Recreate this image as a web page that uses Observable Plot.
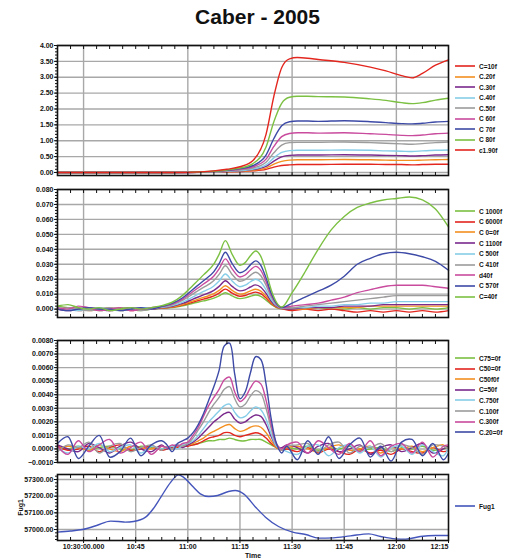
<!DOCTYPE html>
<html><head><meta charset="utf-8">
<script src="https://cdn.jsdelivr.net/npm/d3@7"></script>
<script src="https://cdn.jsdelivr.net/npm/@observablehq/plot@0.6"></script>
<style>
body{margin:0;background:#fff;}
#root{position:relative;width:505px;height:559px;overflow:hidden;background:#fff;font-family:"Liberation Sans",Arial,sans-serif;}
#title{position:absolute;left:0;top:5px;width:515px;text-align:center;font:bold 21px "Liberation Sans",Arial,sans-serif;color:#111;}
.panel{position:absolute;left:0;}
.lg{position:absolute;left:455px;height:10px;display:flex;align-items:center;font:bold 6.5px "Liberation Sans",Arial,sans-serif;color:#111;white-space:nowrap;}
</style></head>
<body><div id="root"><div id="title">Caber - 2005</div></div>
<script>
// ---------- shared x ticks ----------
const X_TICKS = [0.5,1.5,2.5,3.5,4.5,5.5,6.5,7.5];
const X_TICK_LABELS = ["10:30:00.000","10:45","11:00","11:15","11:30","11:45","12:00","12:15"];

// ---------- panel 1 ----------
const P1_T = [0,0.5,1,1.5,2,2.5,2.75,3,3.25,3.5,3.75,4.0,4.15,4.3,4.45,4.6,4.8,5,5.5,6,6.3,6.6,6.8,7,7.25,7.5];
const P1_NAMES = ["C=10f","C.20f","C.30f","C.40f","C.50f","C 60f","C 70f","C 80f","c1.90f"];
const P1_V1 = [0,0,0,0,0,0,0.005,0.01,0.02,0.03,0.05,0.1,0.17,0.22,0.24,0.25,0.25,0.25,0.26,0.26,0.25,0.25,0.24,0.25,0.26,0.26];
const P1_V2 = [0,0,0,0,0,0,0.005,0.01,0.025,0.04,0.07,0.14,0.26,0.35,0.39,0.4,0.4,0.4,0.41,0.4,0.39,0.38,0.38,0.39,0.4,0.41];
const P1_V3 = [0,0,0,0,0,0,0.005,0.015,0.03,0.05,0.09,0.19,0.36,0.49,0.54,0.55,0.55,0.55,0.56,0.55,0.54,0.53,0.52,0.53,0.55,0.56];
const P1_V4 = [0,0,0,0,0,0,0.01,0.02,0.04,0.06,0.11,0.24,0.46,0.63,0.69,0.7,0.7,0.7,0.71,0.7,0.68,0.67,0.66,0.68,0.7,0.71];
const P1_V5 = [0,0,0,0,0,0,0.01,0.02,0.05,0.08,0.14,0.32,0.62,0.86,0.94,0.95,0.95,0.95,0.96,0.94,0.92,0.9,0.89,0.91,0.94,0.96];
const P1_V6 = [0,0,0,0,0,0,0.01,0.03,0.06,0.1,0.18,0.42,0.82,1.13,1.23,1.25,1.25,1.24,1.25,1.22,1.2,1.17,1.16,1.18,1.22,1.24];
const P1_V7 = [0,0,0,0,0,0.005,0.015,0.035,0.07,0.12,0.22,0.55,1.07,1.47,1.6,1.62,1.62,1.61,1.63,1.6,1.57,1.54,1.53,1.55,1.59,1.61];
const P1_V8 = [0,0,0,0,0,0.005,0.02,0.04,0.08,0.14,0.28,0.8,1.6,2.18,2.37,2.4,2.4,2.39,2.38,2.32,2.27,2.2,2.17,2.2,2.28,2.34];
const P1_V9 = [0,0,0,0,0,0.005,0.02,0.05,0.1,0.18,0.38,1.2,2.4,3.3,3.58,3.62,3.6,3.56,3.47,3.32,3.2,3.05,2.98,3.12,3.38,3.55];
const P1_YTICKS = [0,0.5,1,1.5,2,2.5,3,3.5,4];

// ---------- panel 2 ----------
const P2_T = [0,0.2,0.4,0.6,0.8,1.0,1.2,1.4,1.6,1.8,2.0,2.2,2.4,2.6,2.8,3.0,3.1,3.22,3.35,3.5,3.6,3.7,3.8,3.9,4.0,4.1,4.2,4.3,4.5,4.75,5.0,5.25,5.5,5.75,6.0,6.25,6.5,6.75,7.0,7.25,7.5];
const P2_NAMES = ["C 1000f","C 6000f","C 0=0f","C 1100f","C 500f","C 410f","d40f","C 570f","C=40f"];
const P2_V1 = [0.002,0.001,0.000,0.001,-0.001,0.000,0.001,0.000,-0.001,0.000, 0.0005,0.0011,0.0022,0.0039,0.0055,0.0073,0.0088,0.011,0.0088,0.007,0.0075,0.0086,0.0094,0.0085,0.006,0.0031,0.0011,0.0003, 0.001,0.000,0.001,0.000,0.000,0.001,0.000,0.001,0.001,0.000,0.001,0.000,0.001];
const P2_V2 = [0.000,0.001,-0.001,0.000,0.001,-0.001,0.000,-0.001,0.000,0.001, 0.0007,0.0013,0.0027,0.0047,0.0067,0.0088,0.0107,0.0134,0.0107,0.0086,0.0091,0.0105,0.0114,0.0103,0.0074,0.0038,0.0013,0.0004, -0.001,0.000,-0.001,0.000,-0.001,-0.002,-0.001,-0.002,-0.001,-0.002,-0.001,-0.002,-0.001];
const P2_V3 = [0.001,0.000,0.001,-0.001,0.000,0.001,-0.001,0.000,0.001,0.000, 0.0008,0.0016,0.0031,0.0055,0.0078,0.0103,0.0125,0.0156,0.0125,0.010,0.0106,0.0122,0.0133,0.012,0.0086,0.0044,0.0016,0.0005, 0.000,0.000,0.001,0.001,0.001,0.001,0.002,0.002,0.002,0.002,0.002,0.002,0.002];
const P2_V4 = [0.000,-0.001,0.000,0.001,0.000,-0.001,0.000,0.001,0.000,0.000, 0.001,0.0019,0.0038,0.0067,0.0095,0.0125,0.0152,0.019,0.0152,0.0122,0.0129,0.0148,0.0162,0.0146,0.0105,0.0053,0.0019,0.0006, 0.000,0.001,0.001,0.001,0.002,0.002,0.002,0.003,0.003,0.003,0.003,0.003,0.003];
const P2_V5 = [0.001,0.000,-0.001,0.000,0.001,0.000,-0.001,0.000,0.001,0.001, 0.0012,0.0024,0.0047,0.0082,0.0118,0.0155,0.0188,0.0235,0.0188,0.015,0.016,0.0183,0.020,0.0181,0.0129,0.0066,0.0024,0.0007, 0.001,0.001,0.002,0.002,0.003,0.003,0.004,0.004,0.005,0.005,0.005,0.005,0.005];
const P2_V6 = [0.000,0.001,0.000,-0.001,0.000,0.001,0.000,0.000,-0.001,0.000, 0.0015,0.0029,0.0058,0.0102,0.0145,0.0191,0.0232,0.029,0.0232,0.0186,0.0197,0.0226,0.0247,0.0223,0.016,0.0081,0.0029,0.0009, 0.001,0.002,0.003,0.004,0.005,0.006,0.007,0.008,0.009,0.009,0.009,0.009,0.009];
const P2_V7 = [0.001,0.000,0.002,0.001,-0.001,0.000,0.001,-0.001,0.000,0.001, 0.0017,0.0034,0.0067,0.0118,0.0168,0.0222,0.0269,0.0336,0.0269,0.0215,0.0228,0.0262,0.0286,0.0259,0.0185,0.0094,0.0034,0.001, 0.002,0.003,0.004,0.006,0.008,0.011,0.013,0.015,0.016,0.016,0.016,0.015,0.014];
const P2_V8 = [0.000,-0.001,0.000,0.001,0.000,0.000,-0.001,0.000,0.001,0.000, 0.0019,0.0038,0.0076,0.0133,0.019,0.0251,0.0304,0.038,0.0304,0.0243,0.0258,0.0296,0.0323,0.0293,0.0209,0.0106,0.0038,0.0011, 0.004,0.008,0.012,0.016,0.022,0.030,0.034,0.037,0.038,0.037,0.035,0.032,0.026];
const P2_V9 = [0.002,0.003,0.001,0.000,0.001,-0.001,0.000,0.001,0.000,0.001, 0.0023,0.0046,0.0092,0.016,0.0229,0.0302,0.0366,0.0458,0.0366,0.0293,0.0311,0.0357,0.0389,0.0353,0.0252,0.0128,0.0046,0.0014, 0.011,0.025,0.040,0.053,0.062,0.068,0.071,0.073,0.074,0.075,0.073,0.067,0.055];
const P2_YTICKS = [0,0.01,0.02,0.03,0.04,0.05,0.06,0.07,0.08];

// ---------- panel 3 ----------
const P3_T = [0,0.2,0.4,0.6,0.8,1.0,1.2,1.4,1.6,1.8,2.0, 2.1,2.2,2.3,2.4,2.5,2.6,2.7,2.8,2.9,3.0,3.1,3.2,3.3,3.4,3.5,3.6,3.7,3.8,3.9,4.0,4.1,4.2,4.3,4.4, 4.6,4.8,5.0,5.2,5.4,5.6,5.8,6.0,6.2,6.4,6.6,6.8,7.0,7.2,7.4,7.5];
const P3_NAMES = ["C75=0f","C50=0f","C50f0f","C=50f","C.750f","C.100f","C.300f","C.20=0f"];
const P3_V1 = [0.0001,0.0000,0.0002,-0.0001,0.0001,0.0002,0.0000,-0.0001,0.0002,0.0001,0.0000, 0.0001,0.0001,0.0002,0.0002,0.0003,0.0003,0.0004,0.0005,0.0006,0.0006,0.0007,0.0007,0.0008,0.0007,0.0006,0.0006,0.0007,0.0007,0.0007,0.0005,0.0003,0.0001,0.0000,0.0001, 0.0000,0.0002,-0.0001,0.0001,0.0000,0.0002,-0.0001,0.0000,0.0001,-0.0002,0.0001,0.0000,0.0002,-0.0001,0.0000,0.0001];
const P3_V2 = [0.0002,-0.0001,0.0000,0.0002,-0.0002,0.0001,0.0003,-0.0001,0.0000,0.0002,-0.0001, 0.0000,0.0001,0.0001,0.0002,0.0002,0.0003,0.0004,0.0006,0.0008,0.0009,0.0010,0.0012,0.0012,0.0010,0.0009,0.0010,0.0011,0.0012,0.0011,0.0008,0.0004,0.0001,-0.0001,0.0000, -0.0002,0.0001,-0.0003,0.0000,-0.0002,-0.0004,0.0000,-0.0003,-0.0001,-0.0004,0.0000,-0.0002,-0.0003,0.0001,-0.0002,-0.0001];
const P3_V3 = [0.0000,0.0002,0.0001,-0.0001,0.0003,0.0000,-0.0002,0.0002,0.0001,0.0000,0.0002, 0.0001,0.0000,0.0002,0.0002,0.0003,0.0004,0.0006,0.0008,0.0011,0.0013,0.0015,0.0017,0.0018,0.0015,0.0013,0.0014,0.0016,0.0017,0.0016,0.0012,0.0006,0.0001,0.0000,0.0001, 0.0002,0.0000,-0.0002,0.0001,0.0003,-0.0001,0.0000,0.0002,-0.0003,0.0001,0.0000,0.0002,-0.0002,0.0001,0.0003,0.0000];
const P3_V4 = [0.0003,0.0000,-0.0002,0.0004,0.0001,-0.0003,0.0002,0.0005,0.0000,-0.0002,0.0003, 0.0000,0.0002,0.0003,0.0001,0.0003,0.0005,0.0008,0.0012,0.0016,0.0020,0.0023,0.0026,0.0027,0.0022,0.0019,0.0020,0.0023,0.0025,0.0024,0.0018,0.0009,0.0002,0.0001,0.0003, 0.0001,-0.0003,0.0002,0.0004,-0.0002,0.0000,0.0003,-0.0004,0.0001,0.0003,-0.0002,0.0001,0.0004,-0.0003,0.0000,0.0002];
const P3_V5 = [0.0001,-0.0003,0.0002,0.0000,0.0004,-0.0002,0.0001,0.0003,-0.0003,0.0002,0.0000, 0.0001,0.0002,0.0000,0.0003,0.0004,0.0006,0.0010,0.0015,0.0020,0.0024,0.0028,0.0032,0.0033,0.0027,0.0023,0.0024,0.0028,0.0031,0.0029,0.0022,0.0011,0.0002,0.0000,-0.0002, -0.0004,0.0002,0.0003,-0.0005,0.0001,0.0003,-0.0003,0.0002,-0.0006,0.0001,0.0002,-0.0004,0.0003,-0.0002,-0.0005,0.0001];
const P3_V6 = [-0.0002,0.0003,0.0001,0.0005,-0.0003,0.0002,0.0004,-0.0002,0.0001,0.0003,-0.0001, 0.0002,0.0000,0.0003,0.0002,0.0004,0.0008,0.0014,0.0020,0.0027,0.0033,0.0038,0.0044,0.0046,0.0037,0.0031,0.0033,0.0039,0.0043,0.0041,0.0030,0.0015,0.0003,-0.0001,0.0002, 0.0003,0.0004,-0.0002,0.0003,0.0005,-0.0003,0.0002,0.0001,0.0004,-0.0002,0.0003,0.0001,-0.0004,0.0003,0.0002,0.0000];
const P3_V7 = [0.0002,-0.0004,0.0006,-0.0002,0.0003,0.0007,-0.0003,0.0001,0.0005,-0.0004,0.0002, 0.0001,0.0003,0.0002,0.0004,0.0005,0.0010,0.0016,0.0024,0.0032,0.0038,0.0044,0.0051,0.0053,0.0042,0.0035,0.0038,0.0045,0.0050,0.0048,0.0036,0.0018,0.0004,0.0000,0.0003, 0.0005,-0.0003,0.0006,0.0001,-0.0004,0.0004,-0.0002,0.0006,-0.0005,0.0002,0.0004,-0.0003,0.0005,-0.0006,0.0002,0.0003];
const P3_V8 = [0.0004,0.0009,-0.0007,0.0002,0.0010,-0.0006,-0.0002,0.0008,-0.0005,0.0003,0.0006, 0.0003,-0.0002,0.0004,0.0006,0.0008,0.0012,0.0018,0.0026,0.0036,0.0046,0.0058,0.0076,0.0078,0.0055,0.0037,0.0042,0.0056,0.0068,0.0066,0.0048,0.0022,0.0004,-0.0003,0.0002, -0.0008,0.0006,-0.0004,0.0009,-0.0007,0.0003,0.0008,-0.0006,0.0002,-0.0009,0.0005,0.0007,-0.0005,0.0004,-0.0008,-0.0003];
const P3_YTICKS = [-0.001,0,0.001,0.002,0.003,0.004,0.005,0.006,0.007,0.008];

// ---------- panel 4 ----------
const P4_T = [0,0.25,0.48,0.75,1.02,1.17,1.30,1.46,1.69,1.84,1.98,2.17,2.32,2.42,2.61,2.74,2.90,3.07,3.28,3.41,3.57,3.80,3.99,4.24,4.51,4.76,5.01,5.29,5.62,5.97,6.20,6.48,6.68,6.96,7.25,7.5];
const P4_V = [56984,56991,57000,57024,57050,57048,57044,57048,57074,57126,57193,57283,57328,57313,57253,57214,57198,57204,57228,57234,57214,57134,57074,57018,56984,56970,56948,56950,56962,56974,56958,56944,56942,56958,56964,56964];
const P4_NAME = "Fug1";
const P4_YTICKS = [57000,57100,57200,57300];

// ---------- styling ----------
const COLORS_9 = ["#e3261e","#f39020","#7a2a8c","#86cde8","#9c9c9c","#c94b9e","#3d4aa6","#7cc043","#e3261e"];
const COLORS_P2 = ["#7cc043","#e3261e","#f39020","#7a2a8c","#86cde8","#9c9c9c","#c94b9e","#3d4aa6","#7cc043"];
const COLORS_P3 = ["#7cc043","#e3261e","#f39020","#7a2a8c","#86cde8","#9c9c9c","#c94b9e","#3d4aa6"];
const GRID = "#a8a8a8";
const root = document.getElementById("root");
const XMINOR = d3.range(0, 7.51, 0.25);

function rowsOf(xs, series, names) {
  const rows = [];
  series.forEach((vals, i) => vals.forEach((v, j) => rows.push({t: xs[j], v, s: names[i]})));
  return rows;
}

function drawPanel(o) {
  const mt = 6, mb = o.bottom ? 19 : 6;
  const marks = [
    Plot.gridX(o.xGrid, {stroke: GRID, strokeOpacity: 1, strokeWidth: 1.4}),
    Plot.gridY(o.yTicks, {stroke: GRID, strokeOpacity: 1, strokeWidth: 1.4}),
    Plot.line(o.rows, {x: "t", y: "v", z: "s", stroke: "s", strokeWidth: 1.4, curve: o.curve}),
    Plot.frame({stroke: "#111", strokeWidth: 1.6}),
    Plot.axisY(o.yTicks, {tickFormat: o.yFmt, tickSize: 3, tickPadding: 1, stroke: "#111", label: o.yLabel ?? null, labelAnchor: "center", labelOffset: 39, labelArrow: "none"}),
    Plot.axisY(o.yMinor, {tickSize: 2, tickFormat: () => "", stroke: "#111", label: null}),
    Plot.axisX(XMINOR, {anchor: "top", tickSize: -3, tickFormat: () => "", stroke: "#111", label: null}),
    Plot.axisX(XMINOR, {anchor: "bottom", tickSize: -3, tickFormat: () => "", stroke: "#111", label: null})
  ];
  if (o.bottom) {
    const lab = new Map(X_TICKS.map((d, i) => [d, X_TICK_LABELS[i]]));
    marks.push(Plot.axisX(X_TICKS.slice(0, 7), {anchor: "bottom", tickSize: 3, tickPadding: 1, tickFormat: d => lab.get(d), stroke: "#111", label: "Time", labelAnchor: "center", labelOffset: 17, labelArrow: "none"}));
    marks.push(Plot.axisX(X_TICKS.slice(7), {anchor: "bottom", tickSize: 3, tickPadding: 1, tickFormat: d => lab.get(d), textAnchor: "end", stroke: "#111", label: null}));
  }
  const chart = Plot.plot({
    width: 505, height: o.frameH + mt + mb,
    marginLeft: 57, marginRight: 57, marginTop: mt, marginBottom: mb,
    x: {domain: [0, 7.5], label: null},
    y: {domain: o.yDomain, label: null},
    color: {domain: o.names, range: o.colors},
    style: {fontFamily: "'Liberation Sans', Arial, sans-serif", fontSize: "7px", fontWeight: "bold", color: "#111", background: "transparent", overflow: "visible"},
    marks
  });
  chart.classList.add("panel");
  chart.style.position = "absolute";
  chart.style.top = (o.frameTop - mt) + "px";
  root.appendChild(chart);
}

function legend(names, colors, y0, step) {
  names.forEach((n, i) => {
    const d = document.createElement("div");
    d.className = "lg";
    d.style.top = (y0 + i * step - 5) + "px";
    d.innerHTML = `<svg width="20" height="10"><line x1="0" x2="20" y1="5" y2="5" stroke="${colors[i]}" stroke-width="1.6"/></svg><span style="margin-left:4px">${n}</span>`;
    root.appendChild(d);
  });
}

drawPanel({frameTop: 45, frameH: 130, rows: rowsOf(P1_T, [P1_V1,P1_V2,P1_V3,P1_V4,P1_V5,P1_V6,P1_V7,P1_V8,P1_V9], P1_NAMES),
  names: P1_NAMES, colors: COLORS_9, yDomain: [-0.095, 4.0], yTicks: P1_YTICKS, yFmt: d3.format(".2f"),
  yMinor: d3.range(0, 4.001, 0.1), xGrid: [0.5, 2.5, 4.5, 6.5], curve: "monotone-x"});
drawPanel({frameTop: 189, frameH: 128, rows: rowsOf(P2_T, [P2_V1,P2_V2,P2_V3,P2_V4,P2_V5,P2_V6,P2_V7,P2_V8,P2_V9], P2_NAMES),
  names: P2_NAMES, colors: COLORS_P2, yDomain: [-0.0056, 0.08], yTicks: P2_YTICKS, yFmt: d3.format(".3f"),
  yMinor: d3.range(-0.004, 0.0801, 0.002), xGrid: [0.5, 2.5, 4.5, 6.5], curve: "monotone-x"});
drawPanel({frameTop: 340, frameH: 122, rows: rowsOf(P3_T, [P3_V1,P3_V2,P3_V3,P3_V4,P3_V5,P3_V6,P3_V7,P3_V8], P3_NAMES),
  names: P3_NAMES, colors: COLORS_P3, yDomain: [-0.001, 0.008], yTicks: P3_YTICKS, yFmt: d3.format(".4f"),
  yMinor: d3.range(-0.001, 0.00801, 0.0002), xGrid: [0.5, 2.5, 4.5, 6.5], curve: "catmull-rom"});
drawPanel({frameTop: 474, frameH: 66, rows: rowsOf(P4_T, [P4_V], [P4_NAME]),
  names: [P4_NAME], colors: ["#4455bb"], yDomain: [56934, 57330], yTicks: P4_YTICKS, yFmt: d3.format(".2f"),
  yMinor: d3.range(56940, 57331, 20), xGrid: [0.5,1.5,2.5,3.5,4.5,5.5,6.5], curve: "monotone-x", bottom: true, yLabel: P4_NAME});

legend(P1_NAMES, COLORS_9, 66, 10.5);
legend(P2_NAMES, COLORS_P2, 211, 10.7);
legend(P3_NAMES, COLORS_P3, 358, 10.6);
legend([P4_NAME], ["#4455bb"], 506, 10);
</script></body></html>
